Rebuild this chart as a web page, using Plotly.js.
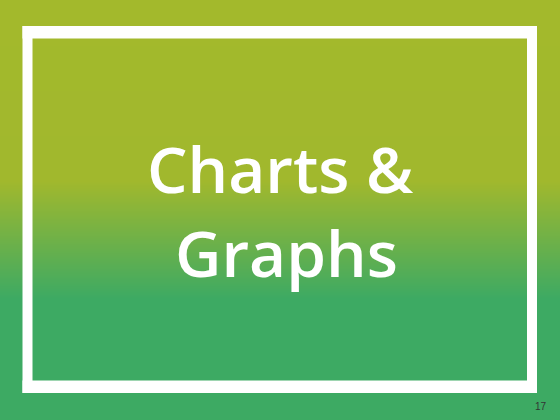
<!DOCTYPE html>
<html>
<head>
<meta charset="utf-8">
<script src="https://cdn.plot.ly/plotly-3.0.1.min.js"></script>
<style>
  html, body { margin: 0; padding: 0; }
  #slide { width: 560px; height: 420px; }
</style>
</head>
<body>
<div id="slide"></div>
<script>
// slide text
var titleLines = ['Charts &', 'Graphs'];
var pageNumber = '17';

// background gradient (top olive -> bottom green)
var gradientStops = [0, 0.43, 0.71, 1];
var gradientColors = ['#a3b92c', '#a1b82d', '#3daa63', '#3daa63'];

var W = 560, H = 420;

var bg = {
  type: 'heatmap',
  x: [0, W],
  y: [0, H],
  z: [[0, 0], [1, 1]],
  zsmooth: 'best',
  colorscale: gradientStops.map(function(s, i) { return [s, gradientColors[i]]; }),
  showscale: false,
  hoverinfo: 'skip'
};

var white = {type: 'rect', xref: 'x', yref: 'y', fillcolor: '#ffffff', line: {width: 0}, layer: 'above'};
function band(x0, y0, x1, y1) {
  return Object.assign({}, white, {x0: x0, y0: y0, x1: x1, y1: y1});
}

var titleFont = {family: 'Open Sans, sans-serif', size: 64, color: '#ffffff', weight: 600};

var layout = {
  width: W, height: H,
  margin: {l: 0, r: 0, t: 0, b: 0},
  paper_bgcolor: '#3daa63',
  plot_bgcolor: '#3daa63',
  showlegend: false,
  xaxis: {range: [0, W], visible: false, fixedrange: true},
  yaxis: {range: [H, 0], visible: false, fixedrange: true},
  shapes: [
    band(22.5, 26, 537, 38.5),
    band(22.5, 380.5, 537, 393),
    band(22.5, 26, 32.5, 393),
    band(527, 26, 537, 393)
  ],
  annotations: [
    {x: 280, y: 168, xref: 'x', yref: 'y', text: titleLines[0], showarrow: false, font: titleFont},
    {x: 286, y: 252.5, xref: 'x', yref: 'y', text: titleLines[1], showarrow: false, font: titleFont},
    {x: 541, y: 406, xref: 'x', yref: 'y', text: pageNumber, showarrow: false,
     font: {family: 'Liberation Sans, Arial, sans-serif', size: 10, color: '#333333'}}
  ]
};

Plotly.newPlot('slide', [bg], layout, {staticPlot: true, displayModeBar: false});
</script>
</body>
</html>
